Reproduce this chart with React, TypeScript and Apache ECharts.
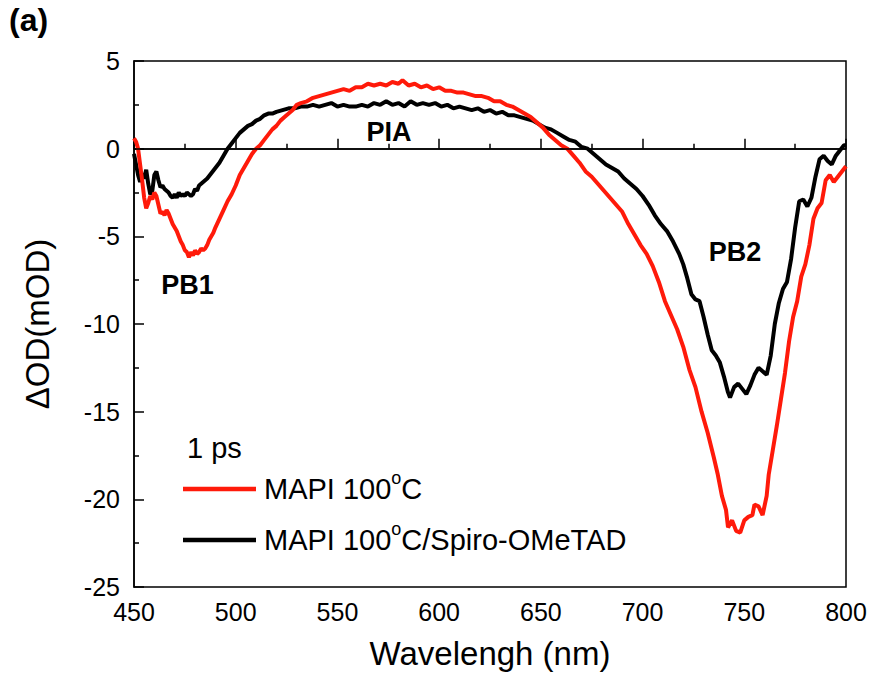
import React, { useEffect, useRef } from "react";
import * as echarts from "echarts";

const mapiWl = [450,451,452,453,454,455,456,457,458,459,460,461,462,463,464,465,466,467,468,469,470,471,472,473,474,475,476,477,478,479,480,481,482,483,484,485,486,487,488,489,490,492,494,496,498,500,502,504,506,508,510,512,514,516,518,520,522,524,526,528,530,532,535,538,541,544,547,550,553,556,559,562,565,568,571,574,577,580,582,585,588,591,594,597,600,603,606,609,612,615,618,621,624,627,630,633,636,639,642,645,648,651,654,657,660,663,666,669,672,675,678,681,684,687,690,693,696,699,702,705,708,711,714,717,720,723,726,729,732,735,737,739,741,742,744,746,748,750,752,754,755,757,759,761,762,764,766,768,770,772,774,776,778,780,782,784,786,788,790,792,794,796,798,800];
const mapiOD = [0.6,0.4,0.0,-0.9,-1.8,-2.8,-3.4,-3.1,-2.7,-2.9,-2.5,-2.7,-3.2,-3.7,-3.6,-3.8,-3.5,-3.7,-4.0,-4.3,-4.5,-4.7,-5.0,-5.3,-5.5,-5.8,-5.9,-6.2,-5.9,-6.1,-5.8,-6.0,-5.9,-5.7,-5.8,-5.7,-5.5,-5.2,-5.0,-4.8,-4.5,-4.0,-3.5,-3.0,-2.6,-2.1,-1.5,-1.1,-0.7,-0.3,0.0,0.2,0.5,0.8,1.1,1.3,1.6,1.8,2.0,2.2,2.5,2.6,2.7,2.9,3.0,3.1,3.2,3.3,3.4,3.3,3.5,3.5,3.7,3.6,3.7,3.6,3.8,3.7,3.9,3.6,3.7,3.5,3.6,3.4,3.5,3.3,3.3,3.2,3.2,3.1,3.0,3.0,2.9,2.7,2.7,2.5,2.4,2.2,2.0,1.8,1.5,1.2,0.8,0.5,0.2,0.0,-0.4,-0.8,-1.3,-1.6,-2.0,-2.4,-2.8,-3.2,-3.6,-4.3,-4.9,-5.5,-6.0,-6.7,-7.6,-8.7,-9.5,-10.3,-11.3,-12.6,-13.6,-15.0,-16.2,-17.6,-18.6,-19.8,-20.6,-21.6,-21.2,-21.8,-21.9,-21.2,-21.0,-20.9,-20.3,-20.4,-20.9,-19.8,-18.6,-17.2,-15.8,-14.3,-12.8,-11.0,-9.6,-8.7,-7.3,-6.6,-5.5,-4.0,-3.4,-3.1,-1.8,-1.5,-1.9,-1.6,-1.3,-1.0];

const spiroWl = [450,451,452,453,454,455,456,457,458,459,460,461,462,463,464,465,466,467,468,469,470,471,472,473,474,475,476,477,478,479,480,481,482,483,484,486,488,490,492,494,496,498,500,502,504,506,508,510,512,514,516,518,520,523,526,529,532,535,538,541,544,547,550,553,556,559,562,565,568,571,574,577,580,583,586,589,592,595,598,601,604,607,610,613,616,619,622,625,628,631,634,637,640,643,646,649,652,655,658,661,664,667,670,673,676,679,682,685,688,691,694,697,700,703,706,709,712,715,718,720,722,724,726,728,730,732,734,736,738,740,742,743,745,747,749,751,753,755,757,759,761,763,765,767,769,771,773,775,777,779,781,783,785,787,789,791,793,795,797,799,800];
const spiroOD = [-0.3,-0.9,-1.5,-1.9,-1.4,-1.7,-1.2,-2.0,-2.6,-2.4,-1.5,-1.3,-1.8,-2.2,-2.1,-2.3,-2.4,-2.5,-2.7,-2.8,-2.6,-2.8,-2.5,-2.7,-2.6,-2.7,-2.5,-2.6,-2.7,-2.6,-2.3,-2.4,-2.1,-2.0,-1.9,-1.7,-1.4,-1.1,-0.8,-0.4,0.0,0.3,0.6,0.9,1.1,1.3,1.4,1.6,1.7,1.9,2.0,2.0,2.1,2.2,2.3,2.3,2.4,2.4,2.5,2.4,2.5,2.6,2.4,2.5,2.4,2.4,2.5,2.4,2.6,2.5,2.7,2.5,2.6,2.4,2.7,2.5,2.6,2.5,2.6,2.4,2.5,2.3,2.4,2.3,2.2,2.3,2.1,2.2,2.0,2.1,1.9,1.9,1.8,1.7,1.6,1.4,1.2,1.1,0.9,0.7,0.5,0.4,0.1,0.0,-0.3,-0.6,-0.9,-1.1,-1.3,-1.7,-2.0,-2.3,-2.7,-3.2,-3.8,-4.3,-4.7,-5.3,-6.0,-6.6,-7.4,-8.3,-8.6,-8.7,-9.6,-10.6,-11.5,-11.8,-12.2,-13.0,-13.9,-14.2,-13.6,-13.4,-13.7,-14.0,-13.5,-12.9,-12.5,-12.7,-12.9,-11.8,-10.0,-8.8,-8.0,-7.6,-6.3,-4.5,-3.0,-2.9,-3.3,-2.8,-1.6,-0.6,-0.4,-0.7,-0.9,-0.4,-0.1,0.2,0.2];

const seriesNames = ["MAPI 100°C", "MAPI 100°C/Spiro-OMeTAD"];
const annotations = [
  { text: "PB1", wl: 476.3, od: -7.8 },
  { text: "PIA", wl: 575.4, od: 0.95 },
  { text: "PB2", wl: 745.5, od: -5.9 },
];

const FONT = "'Liberation Sans', Arial, sans-serif";

export default function App() {
  const ref = useRef<HTMLDivElement>(null);
  useEffect(() => {
    if (!ref.current) return;
    const chart = echarts.init(ref.current, null, { renderer: "svg" });
    const mapi = mapiWl.map((w, i) => [w, mapiOD[i]]);
    const spiro = spiroWl.map((w, i) => [w, spiroOD[i]]);
    const gridLeft = 134, gridTop = 61, gridW = 712, gridH = 526;
    const px = (wl: number) => gridLeft + ((wl - 450) / 350) * gridW;
    const py = (v: number) => gridTop + ((5 - v) / 30) * gridH;
    const legendX = 183;
    const supRich = { sup: { fontSize: 18, fontFamily: FONT, fill: "#000", verticalAlign: "top", lineHeight: 40 } };
    chart.setOption({
      animation: false,
      backgroundColor: "#fff",
      grid: {
        left: gridLeft, top: gridTop, width: gridW, height: gridH,
        show: true, borderColor: "#000", borderWidth: 1.5, backgroundColor: "transparent",
      },
      xAxis: {
        type: "value", min: 450, max: 800, interval: 50,
        name: "Wavelengh (nm)", nameLocation: "middle", nameGap: 50,
        nameTextStyle: { fontFamily: FONT, fontSize: 33, color: "#000" },
        axisLine: { show: true, lineStyle: { color: "#000", width: 1.5 } },
        axisTick: { show: true, inside: true, length: 10, lineStyle: { color: "#000", width: 1.5 } },
        minorTick: { show: true, splitNumber: 2, length: 5, lineStyle: { color: "#000", width: 1.5 } },
        splitLine: { show: false },
        axisLabel: { fontFamily: FONT, fontSize: 25, color: "#000", margin: 12 },
      },
      yAxis: {
        type: "value", min: -25, max: 5, interval: 5,
        name: "ΔOD(mOD)", nameLocation: "middle", nameGap: 80,
        nameTextStyle: { fontFamily: FONT, fontSize: 33, color: "#000" },
        axisLine: { show: true, lineStyle: { color: "#000", width: 1.5 } },
        axisTick: { show: true, inside: true, length: 10, lineStyle: { color: "#000", width: 1.5 } },
        minorTick: { show: true, splitNumber: 2, length: 5, lineStyle: { color: "#000", width: 1.5 } },
        splitLine: { show: false },
        axisLabel: { fontFamily: FONT, fontSize: 25, color: "#000", margin: 14 },
      },
      series: [
        {
          name: seriesNames[1], type: "line", data: spiro, showSymbol: false,
          lineStyle: { color: "#000", width: 4 }, z: 3,
          markLine: {
            silent: true, symbol: ["none", "none"], label: { show: false },
            lineStyle: { color: "#000", width: 1.5, type: "solid" },
            data: [{ yAxis: 0 }],
          },
        },
        {
          name: seriesNames[0], type: "line", data: mapi, showSymbol: false,
          lineStyle: { color: "#ff1a0a", width: 4 }, z: 4,
        },
      ],
      graphic: [
        { type: "text", left: 9, top: 4, style: { text: "(a)", font: `bold 32px ${FONT}`, fill: "#000" } },
        ...annotations.map((a) => ({
          type: "text", x: px(a.wl), y: py(a.od),
          style: { text: a.text, font: `bold 27px ${FONT}`, fill: "#000", align: "center", verticalAlign: "middle" },
        })),
        { type: "text", x: 187, y: 448, style: { text: "1 ps", font: `29px ${FONT}`, fill: "#000", verticalAlign: "middle" } },
        { type: "line", shape: { x1: legendX, y1: 489, x2: 256, y2: 489 }, style: { stroke: "#ff1a0a", lineWidth: 4.5 } },
        { type: "line", shape: { x1: legendX, y1: 540, x2: 256, y2: 540 }, style: { stroke: "#000", lineWidth: 4.5 } },
        {
          type: "text", x: 264, y: 489,
          style: { text: "MAPI 100{sup|o}C", font: `29px ${FONT}`, fill: "#000", verticalAlign: "middle", rich: supRich },
        },
        {
          type: "text", x: 264, y: 540,
          style: { text: "MAPI 100{sup|o}C/Spiro-OMeTAD", font: `29px ${FONT}`, fill: "#000", verticalAlign: "middle", rich: supRich },
        },
      ],
    });
    return () => chart.dispose();
  }, []);
  return <div ref={ref} style={{ width: 874, height: 691, position: "absolute", left: 0, top: 0 }} />;
}
